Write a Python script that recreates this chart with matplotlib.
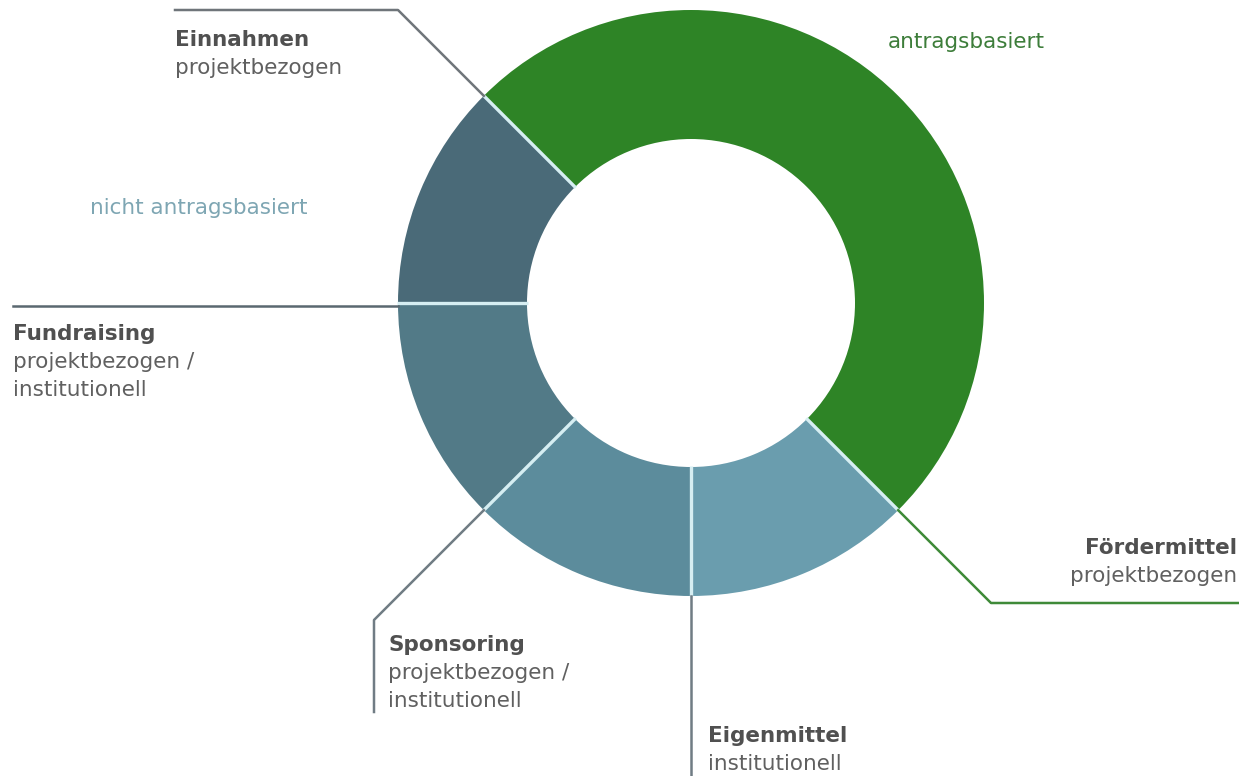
import numpy as np
import matplotlib
matplotlib.use("Agg")
import matplotlib.pyplot as plt

# ---- data ----
categories = ["Fördermittel", "Eigenmittel", "Sponsoring", "Fundraising", "Einnahmen"]
subtitles = ["projektbezogen", "institutionell", "projektbezogen /\ninstitutionell",
             "projektbezogen /\ninstitutionell", "projektbezogen"]
values = [50, 12.5, 12.5, 12.5, 12.5]
colors = ["#2e8426", "#6a9dae", "#5c8c9c", "#527a87", "#4a6a78"]
group_labels = ["antragsbasiert", "nicht antragsbasiert"]

W, H = 1239, 776
fig = plt.figure(figsize=(W / 100, H / 100), dpi=100)
ax = fig.add_axes([0, 0, 1, 1])

cx, cy = 691, H - 303
R_out, R_in = 293, 164

wedges, _ = ax.pie(values, colors=colors, startangle=135, counterclock=False,
                   radius=R_out, center=(cx, cy), frame=True,
                   wedgeprops=dict(width=R_out - R_in, edgecolor="none", linewidth=0))
ax.set_xlim(0, W)
ax.set_ylim(0, H)
ax.set_aspect("equal")
ax.axis("off")

# boundary angles (start of each wedge)
cum = np.concatenate([[0], np.cumsum(values)])
angles = 135 - 360 * cum[:-1] / sum(values)


def pt(a, r):
    t = np.deg2rad(a)
    return cx + r * np.cos(t), cy + r * np.sin(t)


# light separators between wedges
for a in angles:
    (xi, yi), (xo, yo) = pt(a, R_in - 1), pt(a, R_out + 1)
    ax.plot([xi, xo], [yi, yo], color="#d6eef2", lw=2.4, solid_capstyle="butt")

grey = "#707c84"
green_line = "#3f8a38"
lw = 1.8

# Fördermittel: boundary at end of green wedge (-45 deg)
x0, y0 = pt(angles[1], R_out)
yb = H - 603
xb = x0 + (y0 - yb)
ax.plot([x0, xb, W], [y0, yb, yb], color=green_line, lw=lw)

# Eigenmittel: -90 deg
x0, y0 = pt(angles[2], R_out)
ax.plot([x0, x0], [y0, 0], color=grey, lw=lw)

# Sponsoring: -135 deg
x0, y0 = pt(angles[3], R_out)
xb = 374
yb = y0 - (x0 - xb)
ax.plot([x0, xb, xb], [y0, yb, H - 712], color=grey, lw=lw)

# Fundraising: 180 deg
x0, y0 = pt(angles[4], R_out)
ax.plot([x0, 13], [H - 306, H - 306], color="#5a6870", lw=lw)

# Einnahmen: 135 deg
x0, y0 = pt(angles[0], R_out)
yb = H - 10
xb = x0 - (yb - y0)
ax.plot([x0, xb, 175], [y0, yb, yb], color="#6f757a", lw=lw)

fs = 15.5
bold_c = "#505050"
reg_c = "#606060"
lh = 28


def label(x, ytop, title, sub, ha="left"):
    ax.text(x, H - ytop, title, ha=ha, va="center", fontsize=fs, fontweight="bold",
            color=bold_c, family="DejaVu Sans")
    for i, line in enumerate(sub.split("\n")):
        ax.text(x, H - ytop - lh * (i + 1), line, ha=ha, va="center", fontsize=fs,
                color=reg_c, family="DejaVu Sans")


label(175, 40, categories[4], subtitles[4])
label(13, 334, categories[3], subtitles[3])
label(388, 645, categories[2], subtitles[2])
label(708, 736, categories[1], subtitles[1])
label(1237, 548, categories[0], subtitles[0], ha="right")

ax.text(888, H - 42, group_labels[0], ha="left", va="center", fontsize=fs,
        color="#3d7d3a", family="DejaVu Sans")
ax.text(90, H - 208, group_labels[1], ha="left", va="center", fontsize=fs,
        color="#7ea6b3", family="DejaVu Sans")

fig.savefig("out.png", dpi=100, facecolor="white")
